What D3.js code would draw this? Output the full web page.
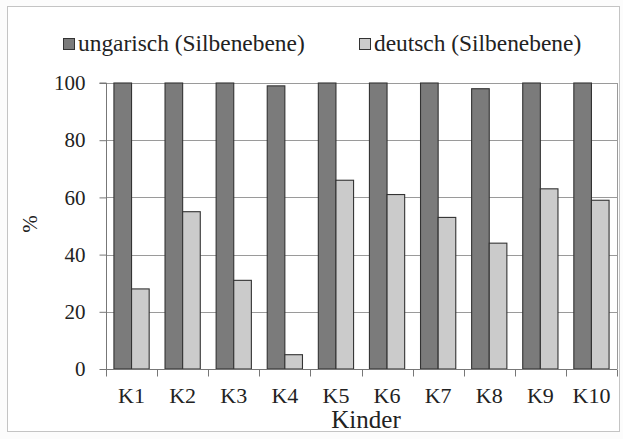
<!DOCTYPE html>
<html><head><meta charset="utf-8">
<script src="https://cdn.jsdelivr.net/npm/d3@7"></script>
<style>body{margin:0;background:#fff}svg{display:block}svg text{font-family:"Liberation Serif","Times New Roman",serif !important;}</style>
</head><body>
<script>
const categories = ["K1","K2","K3","K4","K5","K6","K7","K8","K9","K10"];
const ungarisch = [100,100,100,99,100,100,100,98,100,100];
const deutsch = [28,55,31,5,66,61,53,44,63,59];
const seriesNames = ["ungarisch (Silbenebene)","deutsch (Silbenebene)"];
const yTicks = [0,20,40,60,80,100];

const W=623,H=439;
const m={left:106,right:6,top:83,bottom:70};
const svg=d3.select("body").append("svg").attr("width",W).attr("height",H);
svg.append("rect").attr("width",W).attr("height",H).attr("fill","#fcfcfc");
svg.append("rect").attr("x",7.5).attr("y",6.5).attr("width",612).attr("height",425)
  .attr("fill","#fff").attr("stroke","#c4c4c4");

const x=d3.scaleBand().domain(categories).range([m.left,W-m.right]).paddingInner(0).paddingOuter(0);
const y=d3.scaleLinear().domain([0,100]).range([H-m.bottom,m.top]);
const xs=d3.scaleBand().domain([0,1]).range([0,x.bandwidth()]).paddingInner(0).paddingOuter(0.45);
const colors=["#7b7b7b","#cbcbcb"];

// gridlines
svg.append("g").selectAll("line").data(yTicks.filter(d=>d>0)).join("line")
  .attr("x1",m.left).attr("x2",W-m.right).attr("y1",d=>Math.round(y(d))+0.5).attr("y2",d=>Math.round(y(d))+0.5)
  .attr("stroke","#9a9a9a").attr("stroke-width",1);
svg.append("line").attr("x1",W-m.right+0.5).attr("x2",W-m.right+0.5).attr("y1",y(100)).attr("y2",y(0))
  .attr("stroke","#9a9a9a");

// bars
const data=categories.map((c,i)=>({c,v:[ungarisch[i],deutsch[i]]}));
const g=svg.append("g").selectAll("g").data(data).join("g").attr("transform",d=>`translate(${x(d.c)},0)`);
g.selectAll("rect").data(d=>d.v.map((v,k)=>({v,k}))).join("rect")
  .attr("x",d=>xs(d.k)).attr("width",xs.bandwidth())
  .attr("y",d=>y(d.v)).attr("height",d=>y(0)-y(d.v))
  .attr("fill",d=>colors[d.k]).attr("stroke","#333").attr("stroke-width",1.1);

// y axis
const ya=svg.append("g").attr("transform",`translate(${m.left+0.5},0)`)
  .call(d3.axisLeft(y).tickValues(yTicks).tickSize(7).tickPadding(14));
ya.selectAll("text").attr("font-size",21).attr("fill","#222");
ya.selectAll("line,path").attr("stroke","#777");
ya.select("path").attr("d",`M-7,${y(100)}H0V${y(0)}`);

// x axis
const xa=svg.append("g").attr("transform",`translate(0,${y(0)+0.5})`)
  .call(d3.axisBottom(x).tickSize(0).tickPadding(18));
xa.selectAll("text").attr("font-size",22).attr("fill","#222");
xa.select("path").attr("stroke","#777").attr("d",`M${m.left},0H${W-m.right}`);
const tickPos=categories.map(c=>x(c)).concat([x(categories[categories.length-1])+x.bandwidth()]);
xa.append("g").selectAll("line").data(tickPos).join("line")
  .attr("x1",d=>Math.round(d)+0.5).attr("x2",d=>Math.round(d)+0.5).attr("y1",0).attr("y2",7).attr("stroke","#777");

svg.append("text").attr("x",366).attr("y",428).attr("text-anchor","middle")
  .attr("font-size",25).attr("fill","#222").text("Kinder");
svg.append("text").attr("transform","translate(37,224) rotate(-90)").attr("text-anchor","middle")
  .attr("font-size",21).attr("fill","#222").text("%");

// legend
const leg=[{x:63,name:seriesNames[0],col:colors[0]},{x:359,name:seriesNames[1],col:colors[1]}];
const lg=svg.append("g").selectAll("g").data(leg).join("g").attr("transform",d=>`translate(${d.x},0)`);
lg.append("rect").attr("x",0.5).attr("y",38.5).attr("width",11).attr("height",11)
  .attr("fill",d=>d.col).attr("stroke","#333");
lg.append("text").attr("x",15).attr("y",51).attr("font-size",23.4).attr("fill","#222")
  .text(d=>d.name);
</script>
</body></html>
